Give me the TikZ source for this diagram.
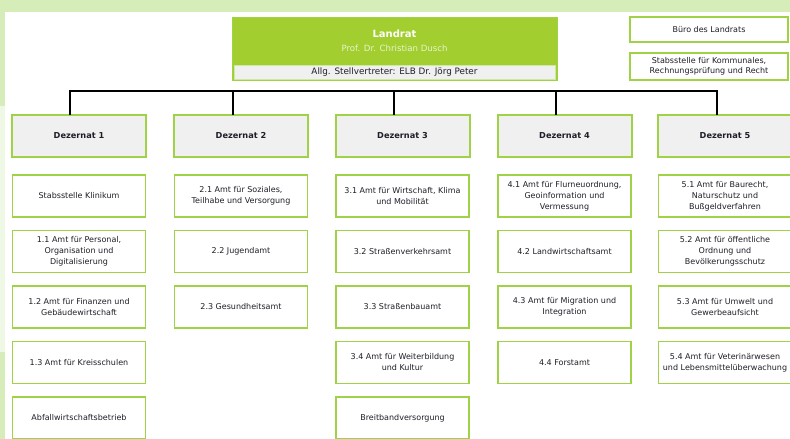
\documentclass[tikz,border=0pt]{standalone}
\usepackage{fontspec}
\setmainfont{DejaVu Sans}
\usetikzlibrary{positioning}
\definecolor{kreisgreen}{RGB}{162,206,48}
\definecolor{boxgreen}{RGB}{160,210,72}
\definecolor{bandgreen}{RGB}{214,237,186}
\definecolor{palegreen}{RGB}{239,248,228}
\definecolor{deputygray}{RGB}{240,240,240}
\definecolor{textdark}{RGB}{30,30,40}
\definecolor{namepale}{RGB}{232,244,204}
\tikzset{
  chief/.style={
    rectangle,
    minimum width=325pt,
    minimum height=63pt,
    draw=boxgreen,
    fill=kreisgreen,
    line width=1pt
    },
  chieftext/.style={
    align=center,
    text=white,
    font=\fontsize{8.6}{14}\selectfont
    },
  deputy/.style={
    rectangle,
    minimum width=321pt,
    minimum height=14pt,
    inner sep=0pt,
    draw=boxgreen!50,
    fill=deputygray,
    text=textdark,
    font=\fontsize{8.8}{10}\selectfont
    },
  staff/.style={
    rectangle,
    minimum width=158pt,
    inner sep=1pt,
    align=center,
    draw=boxgreen,
    line width=1.2pt,
    fill=white,
    text=textdark,
    font=\fontsize{8}{10.5}\selectfont
    },
  dezernat/.style={
    rectangle,
    minimum width=134pt,
    minimum height=42pt,
    align=center,
    draw=boxgreen,
    line width=2pt,
    fill=deputygray,
    text=textdark,
    font=\bfseries\fontsize{8.2}{10}\selectfont
    },
  amt/.style={
    rectangle,
    minimum width=133pt,
    minimum height=42pt,
    inner sep=1pt,
    align=center,
    draw=boxgreen,
    line width=1.2pt,
    fill=white,
    text=textdark,
    font=\fontsize{8}{11}\selectfont
    },
  bus/.style={
    line width=2pt,
    draw=black
    },
}

\begin{document}
\begin{tikzpicture}[
            x = 1pt, y = -1pt, % pixel grid of the reference
            node distance = 13.5pt, % gap between the offices
            every node/.style = {outer sep=0pt}
        ]
    \useasboundingbox (0,0) rectangle (790,439);
    % background bands
    \fill[white] (0,0) rectangle (790,439);
    \fill[bandgreen] (0,0) rectangle (790,12);
    \fill[bandgreen] (0,12) rectangle (5,106);
    \fill[palegreen] (0,106) rectangle (5,352);
    \fill[bandgreen] (0,352) rectangle (5,439);

    % head of the district
    \node[chief] (landrat) at (394.5,48.5) {};
    \node[chieftext] (chiefname) at (394.5,41)
        {\textbf{\fontsize{10}{14}\selectfont Landrat}\\\color{namepale}Prof. Dr. Christian Dusch};
    \node[deputy] (deputy) at (394.5,72) {Allg. Stellvertreter: ELB Dr. Jörg Peter};

    \node[staff, minimum height=25pt] (buero) at (709,29.5) {Büro des Landrats};
    \node[staff, minimum height=27pt] (stabs) at (709,66.5)
        {Stabsstelle für Kommunales,\\Rechnungsprüfung und Recht};

    % departments
    \node[dezernat] (dez1) at (79,136) {Dezernat 1};
    \node[dezernat] (dez2) at (241,136) {Dezernat 2};
    \node[dezernat] (dez3) at (402.5,136) {Dezernat 3};
    \node[dezernat] (dez4) at (564.5,136) {Dezernat 4};
    \node[dezernat] (dez5) at (725,136) {Dezernat 5};

    \coordinate (b1) at (70,91);
    \coordinate (b2) at (233,91);
    \coordinate (b3) at (394,91);
    \coordinate (b4) at (556,91);
    \coordinate (b5) at (717,91);

    \draw[bus] (dez1.north -| b1) -- (b1) -- (b5) -- (dez5.north -| b5);
    \draw[bus] (b2) -- (dez2.north -| b2);
    \draw[bus] (b3) -- (dez3.north -| b3);
    \draw[bus] (b4) -- (dez4.north -| b4);

    % Dezernat 1
    \node[amt] (a10) [below=18pt of dez1] {Stabsstelle Klinikum};
    \node[amt] (a11) [below=of a10] {1.1 Amt für Personal,\\Organisation und\\Digitalisierung};
    \node[amt] (a12) [below=of a11] {1.2 Amt für Finanzen und\\Gebäudewirtschaft};
    \node[amt] (a13) [below=of a12] {1.3 Amt für Kreisschulen};
    \node[amt] (a14) [below=of a13] {Abfallwirtschaftsbetrieb};

    % Dezernat 2
    \node[amt] (a21) [below=18pt of dez2] {2.1 Amt für Soziales,\\Teilhabe und Versorgung};
    \node[amt] (a22) [below=of a21] {2.2 Jugendamt};
    \node[amt] (a23) [below=of a22] {2.3 Gesundheitsamt};

    % Dezernat 3
    \node[amt] (a31) [below=18pt of dez3] {3.1 Amt für Wirtschaft, Klima\\und Mobilität};
    \node[amt] (a32) [below=of a31] {3.2 Straßenverkehrsamt};
    \node[amt] (a33) [below=of a32] {3.3 Straßenbauamt};
    \node[amt] (a34) [below=of a33] {3.4 Amt für Weiterbildung\\und Kultur};
    \node[amt] (a35) [below=of a34] {Breitbandversorgung};

    % Dezernat 4
    \node[amt] (a41) [below=18pt of dez4] {4.1 Amt für Flurneuordnung,\\Geoinformation und\\Vermessung};
    \node[amt] (a42) [below=of a41] {4.2 Landwirtschaftsamt};
    \node[amt] (a43) [below=of a42] {4.3 Amt für Migration und\\Integration};
    \node[amt] (a44) [below=of a43] {4.4 Forstamt};

    % Dezernat 5
    \node[amt] (a51) [below=18pt of dez5] {5.1 Amt für Baurecht,\\Naturschutz und\\Bußgeldverfahren};
    \node[amt] (a52) [below=of a51] {5.2 Amt für öffentliche\\Ordnung und\\Bevölkerungsschutz};
    \node[amt] (a53) [below=of a52] {5.3 Amt für Umwelt und\\Gewerbeaufsicht};
    \node[amt] (a54) [below=of a53] {5.4 Amt für Veterinärwesen\\und Lebensmittelüberwachung};
\end{tikzpicture}
\end{document}
